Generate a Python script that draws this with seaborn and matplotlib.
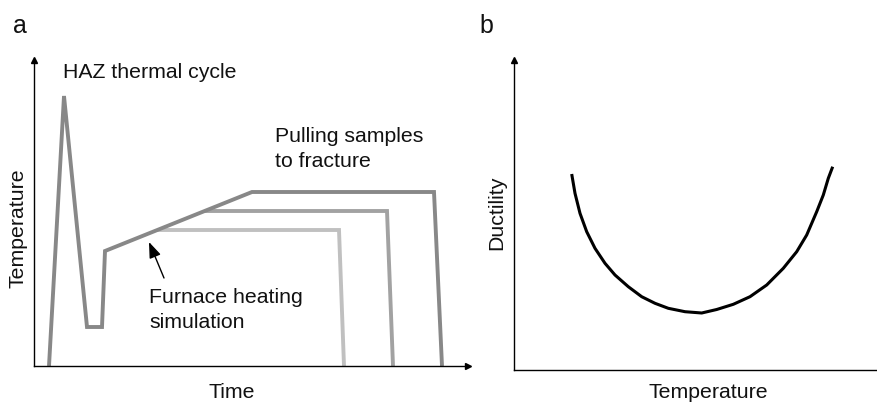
import matplotlib
matplotlib.use("Agg")
import matplotlib.pyplot as plt
import seaborn as sns
import pandas as pd

# ---- Panel a: schematic thermal cycles (time, temperature in arbitrary units) ----
main_time = [15, 30, 53, 68, 71, 218, 400, 408]
main_temp = [0, 270, 39, 39, 115, 174, 174, 0]
mid_time = [171, 353, 359]
mid_temp = [155, 155, 0]
low_time = [123, 305, 310]
low_temp = [136, 136, 0]

# ---- Panel b: ductility vs temperature (arbitrary units) ----
b_temp = [57.7, 61, 66, 72.7, 81, 91, 101, 114.3, 127.7, 141, 154.3, 171, 187.7,
          202.7, 219.3, 236, 252.7, 269.3, 282.7, 292.7, 302.7, 309.3, 314.3, 318.7]
b_duct = [196, 176.7, 156.7, 138.3, 121.7, 106.7, 95, 83.3, 73.3, 66.7, 61.7, 58.3, 57,
          60.5, 65.7, 73.3, 85, 101.7, 118.3, 135, 158.3, 175, 191.7, 203.3]

labels_a = ["HAZ thermal cycle", "Pulling samples\nto fracture", "Furnace heating\nsimulation"]

sns.set_theme(style="white")
plt.rcParams["font.family"] = ["Liberation Sans", "DejaVu Sans"]

W, H = 878, 403
fig = plt.figure(figsize=(W / 100, H / 100), dpi=100)

axa = fig.add_axes([34 / W, (H - 366) / H, 434 / W, 306 / H])
axb = fig.add_axes([514 / W, (H - 370) / H, 364 / W, 310 / H])

colors = {"low": "#c0c0c0", "mid": "#a2a2a2", "main": "#888888"}
lw = 2.8
df_low = pd.DataFrame({"t": low_time, "T": low_temp})
df_mid = pd.DataFrame({"t": mid_time, "T": mid_temp})
df_main = pd.DataFrame({"t": main_time, "T": main_temp})
for df, c in [(df_low, colors["low"]), (df_mid, colors["mid"]), (df_main, colors["main"])]:
    sns.lineplot(data=df, x="t", y="T", sort=False, estimator=None, ax=axa,
                 color=c, linewidth=lw, solid_joinstyle="miter", solid_capstyle="butt")

axa.set_xlim(0, 434)
axa.set_ylim(0, 306)

df_b = pd.DataFrame({"temp": b_temp, "duct": b_duct})
sns.lineplot(data=df_b, x="temp", y="duct", sort=False, estimator=None, ax=axb,
             color="black", linewidth=2.2, solid_joinstyle="round", solid_capstyle="butt")
axb.set_xlim(0, 364)
axb.set_ylim(0, 310)

fs = 15.3
for ax in (axa, axb):
    ax.set_xticks([])
    ax.set_yticks([])
    for s in ("top", "right"):
        ax.spines[s].set_visible(False)
    for s in ("left", "bottom"):
        ax.spines[s].set_color("black")
        ax.spines[s].set_linewidth(1.0)
    ax.patch.set_alpha(0)
    ax.plot([0], [1], marker="^", color="black", markersize=4, transform=ax.transAxes, clip_on=False)
axa.plot([1], [0], marker=">", color="black", markersize=4, transform=axa.transAxes, clip_on=False)

axa.set_xlabel("Time", fontsize=fs, color="#111111")
axa.xaxis.set_label_coords(198 / 434, -27 / 306)
axa.xaxis.label.set_va("center")
axa.set_ylabel("Temperature", fontsize=fs, color="#111111")
axa.yaxis.set_label_coords(-16 / 434, 138 / 306)
axa.yaxis.label.set_va("center")

axb.set_xlabel("Temperature", fontsize=fs, color="#111111")
axb.xaxis.set_label_coords(194 / 364, -22 / 310)
axb.xaxis.label.set_va("center")
axb.set_ylabel("Ductility", fontsize=fs, color="#111111")
axb.yaxis.set_label_coords(-17 / 364, 157 / 310)
axb.yaxis.label.set_va("center")

axa.text(29, 294, labels_a[0], fontsize=fs, ha="left", va="center", color="#111111")
axa.text(241, 217, labels_a[1], fontsize=fs, ha="left", va="center", color="#111111", linespacing=1.36)
axa.text(115, 56, labels_a[2], fontsize=fs, ha="left", va="center", color="#111111", linespacing=1.36)
axa.annotate("", xy=(115, 124), xytext=(130, 88),
             arrowprops=dict(arrowstyle="-|>,head_length=0.8,head_width=0.3", color="black", lw=1.0,
                             shrinkA=0, shrinkB=0))

fig.text(19.5 / W, 1 - 33 / H, "a", fontsize=18, ha="center", va="baseline", color="#111111")
fig.text(486 / W, 1 - 33 / H, "b", fontsize=18, ha="center", va="baseline", color="#111111")

fig.savefig("out.png", dpi=100)
